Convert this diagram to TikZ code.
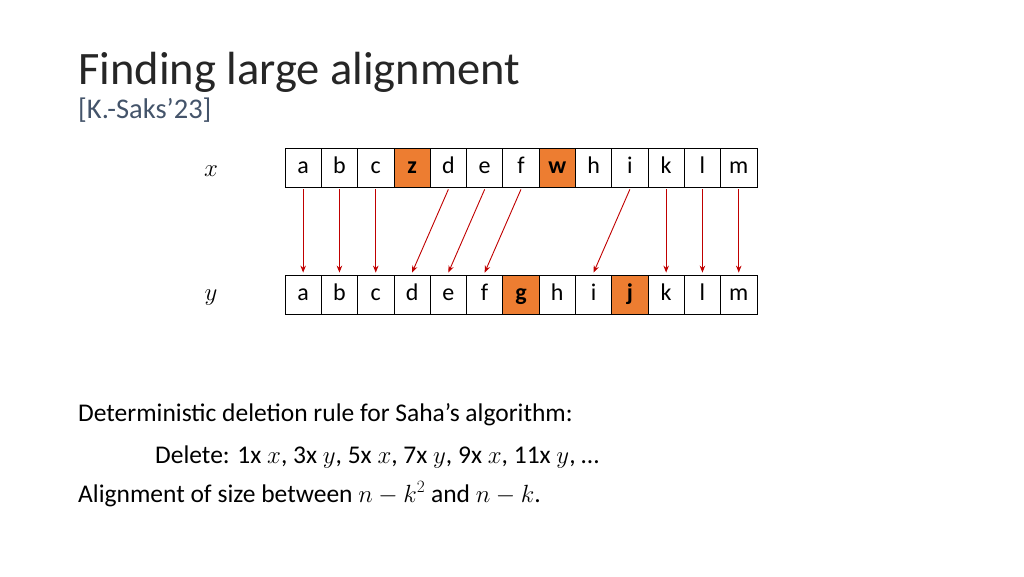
\documentclass[tikz,border=0pt]{standalone}
\usetikzlibrary{arrows.meta}
\usepackage{fontspec}
\setmainfont{Carlito}
\usepackage{amsmath}
\definecolor{org}{HTML}{ED7D31}
\definecolor{arr}{HTML}{C00000}
\definecolor{ttl}{HTML}{262626}
\definecolor{sub}{HTML}{44546A}
\begin{document}
\begin{tikzpicture}[x=1pt,y=-1pt,
  cell/.style={draw=black,line width=0.8pt,minimum width=36.3pt,minimum height=39pt,inner sep=0pt,text height=12pt,text depth=1pt,font=\fontsize{24}{26}\selectfont,anchor=center},
  hi/.style={fill=org,font=\fontsize{24}{26}\selectfont\bfseries},
  al/.style={arr,line width=0.9pt,-{Stealth[length=7pt,width=5.5pt]}},
  txt/.style={anchor=base west,inner sep=0pt,font=\fontsize{25.5}{28}\selectfont}]
\useasboundingbox (0,0) rectangle (1024,576);
\node[anchor=base west,inner sep=0pt,text=ttl,font=\fontsize{46.5}{52}\selectfont] (title) at (78,84) {Finding large alignment};
\node[anchor=base west,inner sep=0pt,text=sub,font=\fontsize{28.5}{32}\selectfont] (cite) at (78,118) {[K.-Saks’23]};
\node[inner sep=0pt,font=\fontsize{24}{26}\selectfont] (xl) at (211,171) {$x$};
\node[inner sep=0pt,font=\fontsize{24}{26}\selectfont] (yl) at (211,298) {$y$};
\foreach \l [count=\i] in {a,b,c,z,d,e,f,w,h,i,k,l,m}
  \node[cell] (t\i) at (266.85+36.3*\i,167.5) {\l};
\foreach \i in {4,8} \node[cell,hi] at (t\i) {\ifnum\i=4 z\else w\fi};
\foreach \l [count=\i] in {a,b,c,d,e,f,g,h,i,j,k,l,m}
  \node[cell] (b\i) at (266.85+36.3*\i,294.5) {\l};
\foreach \i in {7,10} \node[cell,hi] at (b\i) {\ifnum\i=7 g\else j\fi};
\foreach \s/\d in {1/1,2/2,3/3,5/4,6/5,7/6,10/9,11/11,12/12,13/13}
  \draw[al] ([yshift=-2pt]t\s.south) -- ([yshift=2pt]b\d.north);
\node[txt] (l1) at (78,421) {Deterministic deletion rule for Saha’s algorithm:};
\node[txt] (l2) at (155,463) {Delete: 1x $x$, 3x $y$, 5x $x$, 7x $y$, 9x $x$, 11x $y$, …};
\node[txt] (l3) at (78,502) {Alignment of size between $n-k^2$ and $n-k$.};
\end{tikzpicture}
\end{document}
